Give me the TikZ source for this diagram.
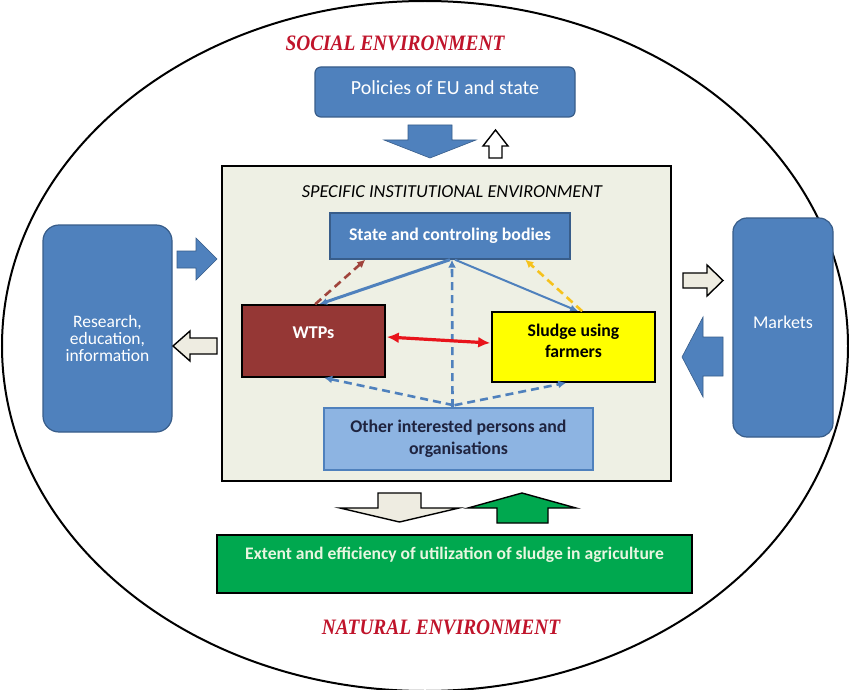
\documentclass[tikz,border=0pt]{standalone}
\usepackage{fontspec}
\setmainfont{Carlito}
\newfontfamily\envfont[FakeStretch=0.88]{Liberation Serif}
\usetikzlibrary{arrows.meta,calc}
\definecolor{bmid}{HTML}{4F81BD}
\definecolor{bdark}{HTML}{385D8A}
\definecolor{blight}{HTML}{8DB4E2}
\definecolor{innerbg}{HTML}{EEF0E4}
\definecolor{wtpred}{HTML}{953735}
\definecolor{sludgey}{HTML}{FFFF00}
\definecolor{greenbox}{HTML}{00A84F}
\definecolor{greentext}{HTML}{E8F6E0}
\definecolor{beige}{HTML}{EEECE1}
\definecolor{envred}{HTML}{C0142B}
\definecolor{dashred}{HTML}{A0443C}
\definecolor{dashyel}{HTML}{F6C21C}
\definecolor{arrred}{HTML}{E8141B}
\definecolor{othertext}{HTML}{1F2440}
\begin{document}
\begin{tikzpicture}[x=1pt,y=-1pt,
  envtext/.style={font=\envfont\bfseries\itshape\fontsize{22}{24}\selectfont, text=envred, inner sep=0},
  roundbox/.style={draw=bdark, fill=bmid, line width=1.2, inner sep=0, rounded corners=#1},
  boxtext/.style={text=white, font=\fontsize{17.5}{17}\selectfont, align=center, inner sep=0},
  sqbox/.style={draw=black, line width=1.6, inner sep=0},
  bluearrow/.style={fill=bmid, draw=bdark, line width=0.6},
  beigearrow/.style={fill=beige, draw=black, line width=1.4, line join=miter},
  greenarrow/.style={fill=greenbox, draw=black, line width=1.4, line join=miter},
  conn/.style={draw=bmid, -{Latex[length=8pt,width=7pt]}},
  dconn/.style={draw=#1, line width=2.6, dash pattern=on 8pt off 5pt, -{Latex[length=8pt,width=8pt]}},
]
\useasboundingbox (0,0) rectangle (849,690);
\fill[white] (0,0) rectangle (849,690);
% outer ellipse
\draw[line width=2] (425,346) ellipse [x radius=423, y radius=345];

% environment labels
\node[envtext] (social) at (395,43) {SOCIAL ENVIRONMENT};
\node[envtext] (natural) at (441,627) {NATURAL ENVIRONMENT};

% policies
\node[roundbox=6, minimum width=260, minimum height=50] (policy) at (445,92) {};
\node[boxtext, font=\fontsize{20}{22}\selectfont] (policyt) at (445,88) {Policies of EU and state};

% arrows below policies
\path[bluearrow] (408,125) -- (452,125) -- (452,140) -- (476,140) -- (430,158) -- (384,140) -- (408,140) -- cycle;
\path[beigearrow, fill=white] (489,158) -- (502,158) -- (502,146) -- (508,146) -- (495.5,130) -- (483,146) -- (489,146) -- cycle;

% inner environment
\node[draw=black, fill=innerbg, line width=1.6, minimum width=449, minimum height=315, inner sep=0] (inner) at (446.5,323.5) {};
\node[font=\itshape\fontsize{18.3}{20}\selectfont, inner sep=0] (innert) at (452,192) {SPECIFIC INSTITUTIONAL ENVIRONMENT};

% inner boxes
\node[draw=bdark, fill=bmid, line width=1.4, minimum width=240, minimum height=46, inner sep=0,
      text=white, font=\bfseries\fontsize{17.8}{20}\selectfont] (state) at (450,236) {State and controling bodies};
\node[sqbox, fill=wtpred, minimum width=143, minimum height=72] (wtp) at (313.5,341) {};
\node[text=white, font=\bfseries\fontsize{18}{20}\selectfont, inner sep=0] (wtpt) at (313.5,333) {WTPs};
\node[sqbox, fill=sludgey, minimum width=163, minimum height=70] (sludge) at (573.5,347) {};
\node[font=\bfseries\fontsize{17.7}{21.5}\selectfont, align=center, inner sep=0] (sludget) at (573.5,341) {Sludge using\\farmers};
\node[draw=bmid, fill=blight, line width=1.6, minimum width=269, minimum height=62, inner sep=0,
      text=othertext, font=\bfseries\fontsize{17.8}{22}\selectfont, align=center] (other) at (458.5,439) {Other interested persons and\\organisations};

% connectors
\draw[conn, line width=3] ($(state.south)+(0,0)$) -- ($(wtp.north west)+(78,0)$);
\draw[conn, line width=2] ($(state.south)+(5,0)$) -- ($(sludge.north west)+(87,0)$);
\draw[dconn=dashred] ($(wtp.north west)+(74,0)$) -- ($(state.south west)+(36,0)$);
\draw[dconn=dashyel] ($(sludge.north west)+(91,0)$) -- ($(state.south west)+(196,0)$);
\draw[dconn=bmid] ($(other.north)+(-6,0)$) -- ($(state.south)+(2,0)$);
\draw[dconn=bmid] ($(other.north)+(-5,-2)$) -- ($(wtp.south west)+(83,0)$);
\draw[dconn=bmid] ($(other.north)+(-4,-2)$) -- ($(sludge.south west)+(75,0)$);
\draw[draw=arrred, line width=3.2, {Latex[length=12pt,width=11pt]}-{Latex[length=12pt,width=11pt]}]
  ($(wtp.east)+(1,-4)$) -- ($(sludge.west)+(-1,-4)$);

% side boxes
\node[roundbox=16, minimum width=129, minimum height=207] (research) at (107.5,328.5) {};
\node[boxtext] (researcht) at (107.5,338) {Research,\\education,\\information};
\node[roundbox=14, minimum width=100, minimum height=219] (markets) at (783,327.5) {};
\node[boxtext, font=\fontsize{18}{20}\selectfont] (marketst) at (783,322) {Markets};

% side arrows
\path[bluearrow] (177,251) -- (196,251) -- (196,238) -- (217,259) -- (196,280) -- (196,268) -- (177,268) -- cycle;
\path[beigearrow] (173,346) -- (190,331) -- (190,338) -- (217,338) -- (217,354) -- (190,354) -- (190,361) -- cycle;
\path[beigearrow] (683,273) -- (707,273) -- (707,265) -- (723,280.5) -- (707,296) -- (707,288) -- (683,288) -- cycle;
\path[bluearrow] (682,357) -- (703,317) -- (703,337) -- (723,337) -- (723,376) -- (703,376) -- (703,397) -- cycle;

% bottom arrows
\path[beigearrow] (378,493) -- (421,493) -- (421,508) -- (459,508) -- (399.5,522) -- (340,508) -- (378,508) -- cycle;
\path[greenarrow] (497,523) -- (548,523) -- (548,508) -- (576,508) -- (522,493) -- (468,508) -- (497,508) -- cycle;

% green box
\node[sqbox, fill=greenbox, minimum width=475, minimum height=58] (extent) at (454.5,564) {};
\node[text=greentext, font=\bfseries\fontsize{17.6}{19}\selectfont, inner sep=0] (extentt) at (454.5,555) {Extent and efficiency of utilization of sludge in agriculture};
\end{tikzpicture}
\end{document}
